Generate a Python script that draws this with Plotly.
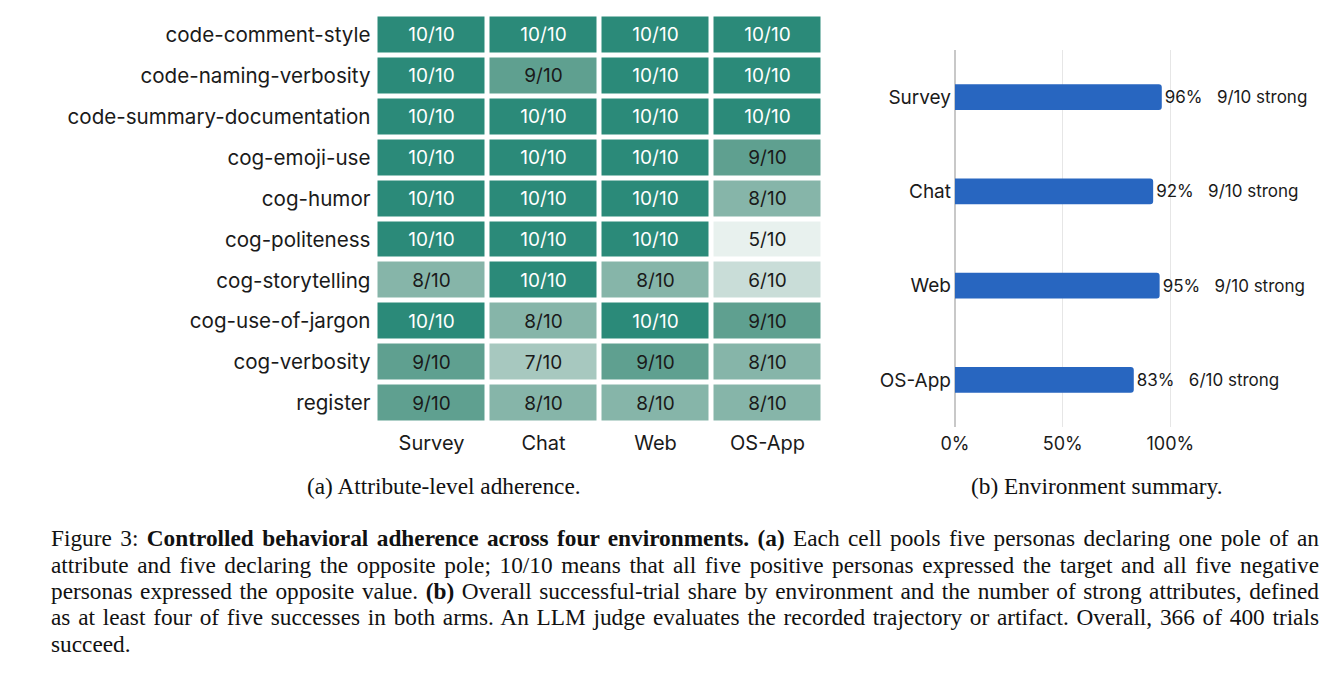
import plotly.graph_objects as go

# ---------------- data ----------------
attributes = [
    "code-comment-style",
    "code-naming-verbosity",
    "code-summary-documentation",
    "cog-emoji-use",
    "cog-humor",
    "cog-politeness",
    "cog-storytelling",
    "cog-use-of-jargon",
    "cog-verbosity",
    "register",
]
environments = ["Survey", "Chat", "Web", "OS-App"]
# successes out of 10, rows = attributes, columns = environments
scores = [
    [10, 10, 10, 10],
    [10, 9, 10, 10],
    [10, 10, 10, 10],
    [10, 10, 10, 9],
    [10, 10, 10, 8],
    [10, 10, 10, 5],
    [8, 10, 8, 6],
    [10, 8, 10, 9],
    [9, 7, 9, 8],
    [9, 8, 8, 8],
]
success_share = [96, 92, 95, 83]      # percent of successful trials
strong_attributes = [9, 9, 9, 6]      # out of 10
x_tick_vals = [0, 50, 100]
x_tick_text = ["0%", "50%", "100%"]

# ---------------- layout helpers ----------------
W, H = 1340, 688
def fx(p):
    return p / W
def fy(p):
    return 1 - p / H

full_text = [[f"{v}/10" for v in row] for row in scores]
light_text = [[t if v == 10 else "" for t, v in zip(tr, vr)] for tr, vr in zip(full_text, scores)]
dark_text = [[t if v != 10 else "" for t, v in zip(tr, vr)] for tr, vr in zip(full_text, scores)]
bar_text = [f"{s}%\u00a0\u00a0\u00a0{n}/10 strong" for s, n in zip(success_share, strong_attributes)]

colorscale = [
    [0.0, "#e8f1ee"],
    [0.2, "#c9ddd8"],
    [0.4, "#a7c8bf"],
    [0.6, "#86b5a9"],
    [0.8, "#5fa090"],
    [1.0, "#2b8a79"],
]
clear = [[0, "rgba(0,0,0,0)"], [1, "rgba(0,0,0,0)"]]

FONT = "Inter"
TXT = "#1a1a1a"

fig = go.Figure()

fig.add_trace(go.Heatmap(
    z=scores, x=environments, y=attributes,
    colorscale=colorscale, zmin=5, zmax=10, showscale=False,
    xgap=5, ygap=5,
    text=light_text, texttemplate="%{text}",
    textfont=dict(size=19, family=FONT, color="white"),
    hoverinfo="skip",
    xaxis="x", yaxis="y",
))
fig.add_trace(go.Heatmap(
    z=scores, x=environments, y=attributes,
    colorscale=clear, zmin=5, zmax=10, showscale=False,
    xgap=5, ygap=5,
    text=dark_text, texttemplate="%{text}",
    textfont=dict(size=19, family=FONT, color=TXT),
    hoverinfo="skip",
    xaxis="x", yaxis="y",
))

fig.add_trace(go.Bar(
    x=success_share, y=environments, orientation="h",
    marker=dict(color="#2866c0", cornerradius=3, line=dict(width=0)),
    width=0.275,
    text=bar_text, textposition="outside", constraintext="none",
    textfont=dict(size=17, color=TXT, family=FONT),
    cliponaxis=False, hoverinfo="skip",
    xaxis="x2", yaxis="y2",
))

x2_right = 1290
x2_max = (x2_right - 955) / 215.4 * 100

fig.update_layout(
    width=W, height=H,
    margin=dict(l=0, r=0, t=0, b=0),
    paper_bgcolor="white", plot_bgcolor="white",
    template="none",
    showlegend=False,
    font=dict(family=FONT, color=TXT),
    xaxis=dict(
        domain=[fx(375.5), fx(823.5)], anchor="y", side="bottom",
        showgrid=False, zeroline=False, ticks="", showline=False,
        tickfont=dict(size=20, color=TXT), ticklabelstandoff=5,
    ),
    yaxis=dict(
        domain=[fy(423.5), fy(14.5)], anchor="x", autorange="reversed",
        showgrid=False, zeroline=False, ticks="", showline=False,
        tickfont=dict(size=20.6, color=TXT), ticklabelstandoff=4,
    ),
    xaxis2=dict(
        domain=[fx(955), fx(x2_right)], anchor="y2", range=[0, x2_max],
        tickvals=x_tick_vals, ticktext=x_tick_text,
        showgrid=True, gridcolor="#e6e6e6", gridwidth=1,
        zeroline=True, zerolinecolor="#c8c8c8", zerolinewidth=2,
        ticks="", showline=False,
        tickfont=dict(size=18, color=TXT), ticklabelstandoff=4,
    ),
    yaxis2=dict(
        domain=[fy(427), fy(50)], anchor="x2", range=[3.5, -0.5],
        showgrid=False, zeroline=False, ticks="", showline=False,
        tickfont=dict(size=19, color=TXT), ticklabelstandoff=3,
    ),
)

SERIF = "Liberation Serif"
ann = []
ann.append(dict(text="(a) Attribute-level adherence.", x=fx(443.5), y=fy(486),
                xanchor="center", yanchor="middle", align="center"))
ann.append(dict(text="(b) Environment summary.", x=fx(1096), y=fy(486),
                xanchor="center", yanchor="middle", align="center"))
caption_lines = [
    "Figure 3: <b>Controlled behavioral adherence across four environments.</b> <b>(a)</b> Each cell pools five personas declaring one pole of an",
    "attribute and five declaring the opposite pole; 10/10 means that all five positive personas expressed the target and all five negative",
    "personas expressed the opposite value. <b>(b)</b> Overall successful-trial share by environment and the number of strong attributes, defined",
    "as at least four of five successes in both arms. An LLM judge evaluates the recorded trajectory or artifact. Overall, 366 of 400 trials",
    "succeed.",
]
line_y = [538, 565, 591, 617, 644]
for t, yy in zip(caption_lines, line_y):
    ann.append(dict(text=t, x=fx(49), y=fy(yy), xanchor="left", yanchor="middle", align="left"))
for a in ann:
    a.update(xref="paper", yref="paper", showarrow=False,
             font=dict(family=SERIF, size=23.3, color="#111"))
fig.update_layout(annotations=ann)

# page tweaks: remove default body margin, justify the long caption lines
post_js = """
document.body.style.margin = '0px';
var gd = document.getElementById('{plot_id}');
function justify() {
  var ts = gd.querySelectorAll('.annotation-text');
  ts.forEach(function (t) {
    var s = t.textContent || '';
    if (s.length < 100) return;
    t.style.wordSpacing = '0px';
    var n = (s.match(/ /g) || []).length;
    if (!n) return;
    var L = t.getComputedTextLength();
    t.style.wordSpacing = ((1268 - L) / n) + 'px';
  });
}
justify();
setTimeout(justify, 50);
setTimeout(justify, 400);
if (gd.on) gd.on('plotly_afterplot', justify);
"""

fig.write_html("out.html", post_script=post_js,
               config={"displayModeBar": False, "staticPlot": True})
